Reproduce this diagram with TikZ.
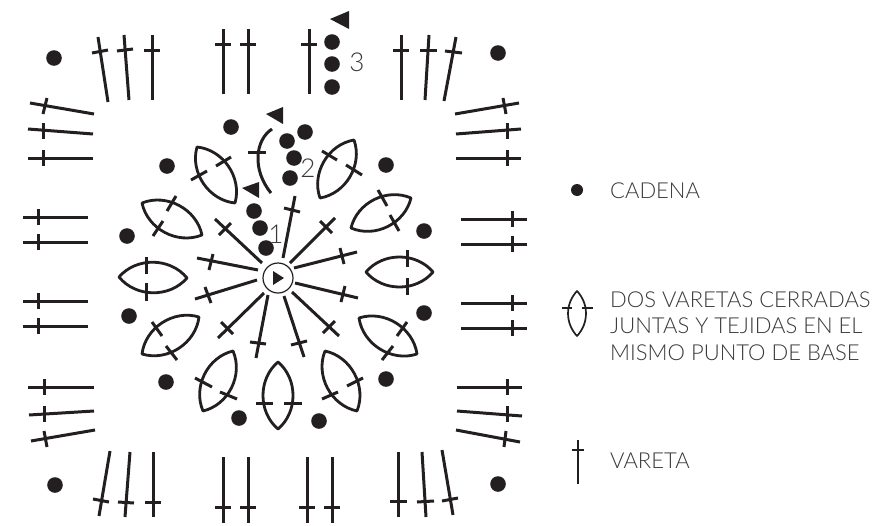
\documentclass[tikz,border=0pt]{standalone}
\usepackage{fontspec}
\setmainfont{Lato Light}
\definecolor{ink}{HTML}{231F20}
\definecolor{txt}{HTML}{3A3839}
\tikzset{
  x=1pt,y=-1pt,
  stitch/.style={draw=ink,line width=3pt},
  leafline/.style={draw=ink,line width=2.8pt,line join=round},
  dotmark/.style={fill=ink},
  tri/.style={fill=ink},
  lbl/.style={text=txt,inner sep=0pt,font=\fontsize{26}{26}\selectfont},
  legend/.style={text=txt,inner sep=0pt,anchor=base west,font=\fontsize{22}{26}\selectfont}
}
\begin{document}
\begin{tikzpicture}
\useasboundingbox (0,0) rectangle (885,525);
% stitches with stem and crossbar: stem x1 y1 x2 y2, bar x3 y3 x4 y4
\foreach \a/\b/\c/\d/\e/\f/\g/\h in {
 108/102/98/37/92/53/108/50, 129/100/124/35/117/51/133/49, 152/100/152/35/144/50/160/50,
 223/94/223/29/215/44/231/44, 248/94/248/29/240/44/256/44, 309/94/309/29/301/44/317/44,
 401/100/401/35/393/50/409/50, 425/100/429/35/420/50/437/50, 444/101/456/37/445/51/462/53,
 94/114/30/103/47/98/43/114, 93/134/28/129/43/123/43/139, 93/158/28/158/43/150/43/166,
 455/114/519/103/503/98/506/114, 456/134/521/129/507/123/507/139, 456/158/521/158/507/150/507/166,
 88/217/23/217/38/209/38/225, 88/242/23/242/38/234/38/250, 88/301/23/301/38/293/38/309, 88/326/23/326/38/318/38/334,
 461/219/527/219/512/211/512/227, 461/244/527/244/512/236/512/252, 461/303/527/303/512/295/512/311, 461/328/527/328/512/320/512/336,
 94/387/28/387/44/379/44/395, 94/411/29/415/44/406/44/422, 95/430/31/441/44/431/47/447,
 110/451/99/516/93/499/109/502, 130/452/125/517/118/502/134/503, 153/452/153/517/145/502/161/502,
 223/457/223/523/215/507/231/507, 248/457/248/523/240/507/256/507, 307/457/307/523/299/507/315/507, 332/457/332/523/324/507/340/507,
 398/452/398/517/390/501/407/501, 422/452/426/517/417/502/434/501, 442/450/453/515/442/501/458/498,
 457/387/522/387/507/379/507/395, 457/411/522/416/507/406/507/422, 456/430/520/442/506/431/504/447,
 283/258/295/196/284/208/300/212, 290/263/335/218/320/221/332/233, 294/268/357/252/340/248/344/264,
 295/283/358/298/345/286/341/302, 292/292/339/336/335/321/323/333, 284/296/304/357/291/345/307/341,
 268/295/256/358/250/342/266/344, 264/293/218/338/221/322/233/334, 257/280/195/299/205/287/211/303,
 258/270/197/258/213/254/209/270, 262/263/215/219/219/235/231/223}
 {\draw[stitch] (\a,\b) -- (\c,\d); \draw[stitch] (\e,\f) -- (\g,\h);}
% arc stitch
\draw[stitch] (272,129) .. controls (255,140) and (252,170) .. (271,193);
\draw[stitch] (248,152) -- (266,152);
% leaves: tips, bars
\foreach \a/\b/\c/\d/\e/\f/\g/\h/\i/\j/\k/\l in {
 197/147/235/203/216/166/231/157/191/180/207/171,
 142/203/202/235/167/211/176/196/153/236/163/221,
 119/277/187/278/146/257/146/274/146/283/146/301,
 199/317/142/354/152/322/162/336/166/346/177/360,
 233/351/203/411/195/378/212/387/220/392/237/399,
 278/362/278/429/256/403/273/403/284/403/302/403,
 325/351/357/411/347/386/363/378/322/399/338/392,
 359/318/417/354/397/336/407/322/382/360/393/346,
 366/272/433/272/407/250/407/267/407/278/407/295,
 411/198/351/228/378/190/387/206/390/215/399/231,
 354/140/320/198/322/151/337/160/346/165/362/175}
 {\draw[leafline] (\a,\b) to[bend left=50] (\c,\d) to[bend left=50] cycle;
  \draw[stitch] (\e,\f) -- (\g,\h);
  \draw[stitch] (\i,\j) -- (\k,\l);}
% dots
\foreach \x/\y in {54/58,498/53,55/485,498/484,332/42,332/64,332/87,231/127,167/166,127/236,254/211,260/228,266/248,
 287/141,305/132,294/158,290/178,129/316,166/382,239/418,319/421,386/165,424/231,424/313,386/379}
 {\fill[dotmark] (\x,\y) circle[radius=7.8];}
% turn marks
\fill[tri] (283,107) -- (283,124) -- (266,114) -- cycle;
\fill[tri] (259,182) -- (259,198) -- (242,188) -- cycle;
\fill[tri] (349,11) -- (349,29) -- (330,19) -- cycle;
% centre
\draw[ink,line width=1.2pt] (278,278) circle[radius=15];
\fill[tri] (273,271) -- (273,285) -- (284,278) -- cycle;
% numbers
\node[lbl] (n1) at (276,234) {1};
\node[lbl] (n2) at (308,168) {2};
\node[lbl] (n3) at (357,62) {3};
% legend
\fill[dotmark] (577,190) circle[radius=6];
\node[legend] (cad) at (610,198) {CADENA};
\draw[ink,line width=1.7pt,line join=round] (577,291) to[bend left=43] (577,336) to[bend left=43] cycle;
\draw[ink,line width=1.7pt] (562,308) -- (572,308) (582,308) -- (593,308);
\node[legend] (dos1) at (610,307) {DOS VARETAS CERRADAS};
\node[legend] (dos2) at (610,333.5) {JUNTAS Y TEJIDAS EN EL};
\node[legend] (dos3) at (610,360) {MISMO PUNTO DE BASE};
\draw[ink,line width=1.7pt] (578,440) -- (578,484) (572,450) -- (584,450);
\node[legend] (var) at (610,468) {VARETA};
\end{tikzpicture}
\end{document}
